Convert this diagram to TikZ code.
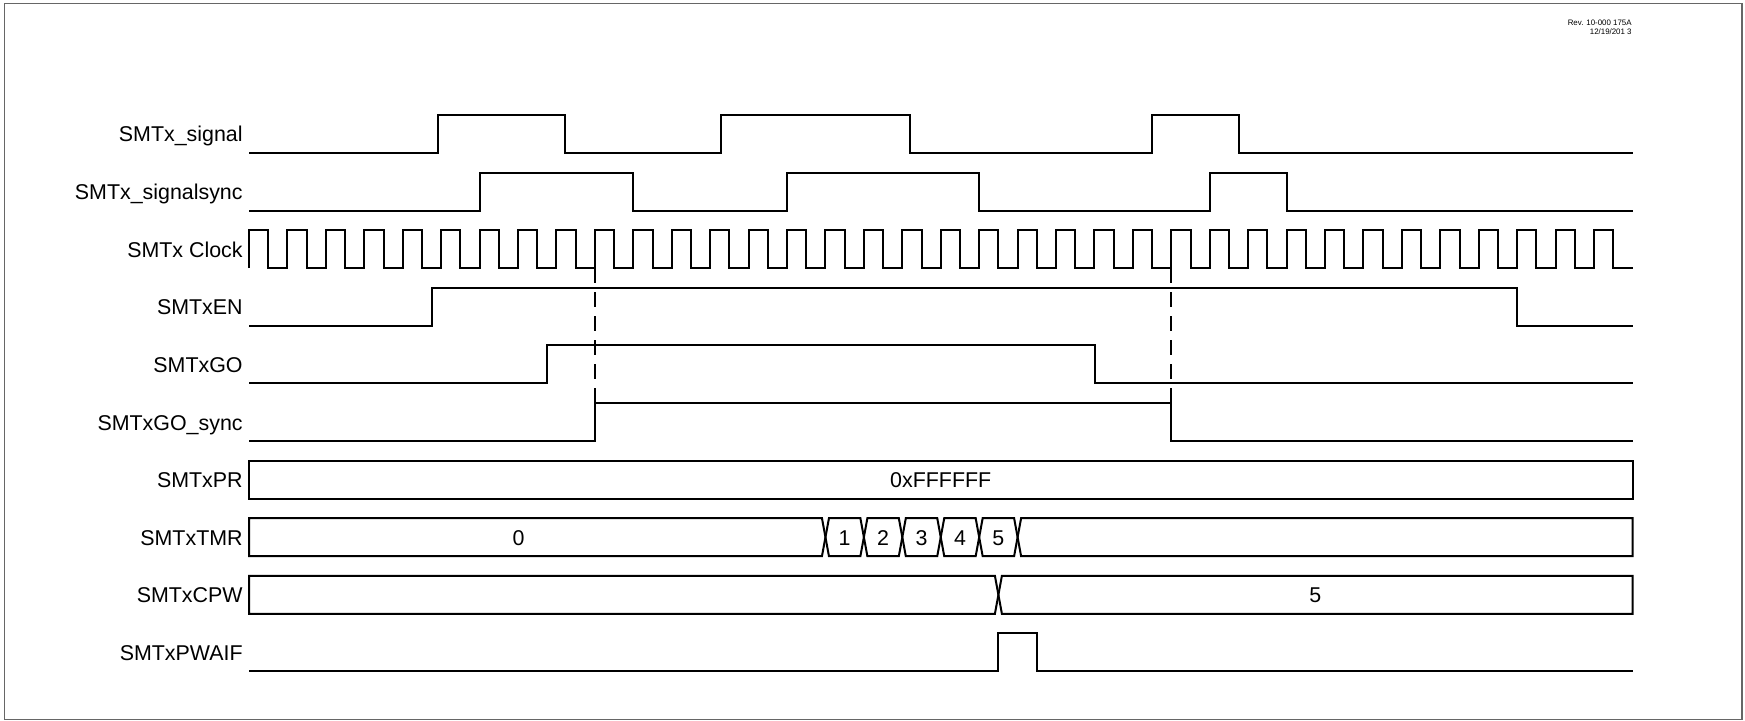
\documentclass[tikz,border=0pt]{standalone}
\usepackage{fontspec}
\setmainfont{Liberation Sans}
\begin{document}
\begin{tikzpicture}[x=0.5pt,y=-0.5pt,
  wave/.style={line width=1pt,line join=miter,line cap=butt},
  lbl/.style={anchor=base east,inner sep=0pt,font=\fontsize{10.7}{12}\selectfont},
  val/.style={anchor=base,inner sep=0pt,font=\fontsize{10.7}{12}\selectfont},
  revtxt/.style={anchor=base east,inner sep=0pt,font=\fontsize{3.95}{5}\selectfont},
  syncline/.style={line width=1pt,dash pattern=on 7.25pt off 4.75pt},
  frame/.style={draw=black!60,line width=0.75pt}]
\useasboundingbox (0,0) rectangle (1745,721);
\draw[frame] (4.5,3.5) rectangle (1742,719.5);

% revision text
\node[revtxt] (rev1) at (1632,25.7) {Rev. 10-000 175A};
\node[revtxt] (rev2) at (1632,34.7) {12/19/201 3};

% labels
\node[lbl] (lsig)   at (243,142)   {SMTx\_signal};
\node[lbl] (lsync)  at (243,199.6) {SMTx\_signalsync};
\node[lbl] (lclk)   at (243,257.2) {SMTx Clock};
\node[lbl] (len)    at (243,314.8) {SMTxEN};
\node[lbl] (lgo)    at (243,372.4) {SMTxGO};
\node[lbl] (lgos)   at (243,430)   {SMTxGO\_sync};
\node[lbl] (lpr)    at (243,487.6) {SMTxPR};
\node[lbl] (ltmr)   at (243,545.2) {SMTxTMR};
\node[lbl] (lcpw)   at (243,602.8) {SMTxCPW};
\node[lbl] (lpwaif) at (243,660.4) {SMTxPWAIF};

% SMTx_signal
\draw[wave] (249,153) -- (437.8,153) -- (437.8,115) -- (564.5,115) -- (564.5,153)
  -- (721,153) -- (721,115) -- (910,115) -- (910,153)
  -- (1152,153) -- (1152,115) -- (1239,115) -- (1239,153) -- (1632.5,153);

% SMTx_signalsync
\draw[wave] (249,210.6) -- (479.6,210.6) -- (479.6,172.6) -- (633.3,172.6) -- (633.3,210.6)
  -- (787,210.6) -- (787,172.6) -- (979.2,172.6) -- (979.2,210.6)
  -- (1209.8,210.6) -- (1209.8,172.6) -- (1286.6,172.6) -- (1286.6,210.6) -- (1632.5,210.6);

% SMTx Clock
\draw[wave] (249,268.2) foreach \k in {0,...,35} { -- ++(0,-38) -- ++(19.215,0) -- ++(0,38) -- ++(19.215,0) };

% SMTxEN
\draw[wave] (249,325.8) -- (432,325.8) -- (432,287.8) -- (1517,287.8) -- (1517,325.8) -- (1632.5,325.8);

% SMTxGO
\draw[wave] (249,383.4) -- (547,383.4) -- (547,345.4) -- (1095,345.4) -- (1095,383.4) -- (1632.5,383.4);

% SMTxGO_sync
\draw[wave] (249,441) -- (594.9,441) -- (594.9,403) -- (1171.3,403) -- (1171.3,441) -- (1632.5,441);

% synchronisation markers
\coordinate (d1top) at (594.9,268.2);
\coordinate (d1bot) at (594.9,403);
\coordinate (d2top) at (1171.3,268.2);
\coordinate (d2bot) at (1171.3,403);
\draw[syncline] (d1top) -- (d1bot);
\draw[syncline] (d2top) -- (d2bot);

% SMTxPR
\draw[wave] (249,460.6) rectangle (1632.5,498.6);
\node[val] (vpr) at (940.7,487.6) {0xFFFFFF};

% SMTxTMR
\draw[wave] (249,518.2) -- (821.95,518.2) -- (825.45,537.2) -- (821.95,556.2) -- (249,556.2) -- cycle;
\node[val] (vtmr0) at (518.6,545.2) {0};
\foreach \a/\b/\t in {825.45/863.88/1, 863.88/902.31/2, 902.31/940.74/3, 940.74/979.17/4, 979.17/1017.6/5} {
  \draw[wave] ({\a+3.5},518.2) -- ({\b-3.5},518.2) -- (\b,537.2) -- ({\b-3.5},556.2)
    -- ({\a+3.5},556.2) -- (\a,537.2) -- cycle;
  \node[val] (vtmr\t) at ({(\a+\b)/2},545.2) {\t};
}
\draw[wave] (1017.6,537.2) -- (1021.1,518.2) -- (1632.5,518.2) -- (1632.5,556.2) -- (1021.1,556.2) -- cycle;

% SMTxCPW
\draw[wave] (249,575.8) -- (994.9,575.8) -- (998.4,594.8) -- (994.9,613.8) -- (249,613.8) -- cycle;
\draw[wave] (998.4,594.8) -- (1001.9,575.8) -- (1632.5,575.8) -- (1632.5,613.8) -- (1001.9,613.8) -- cycle;
\node[val] (vcpw) at (1315.4,602.8) {5};

% SMTxPWAIF
\draw[wave] (249,671.4) -- (998.4,671.4) -- (998.4,633.4) -- (1036.8,633.4) -- (1036.8,671.4) -- (1632.5,671.4);
\end{tikzpicture}
\end{document}
